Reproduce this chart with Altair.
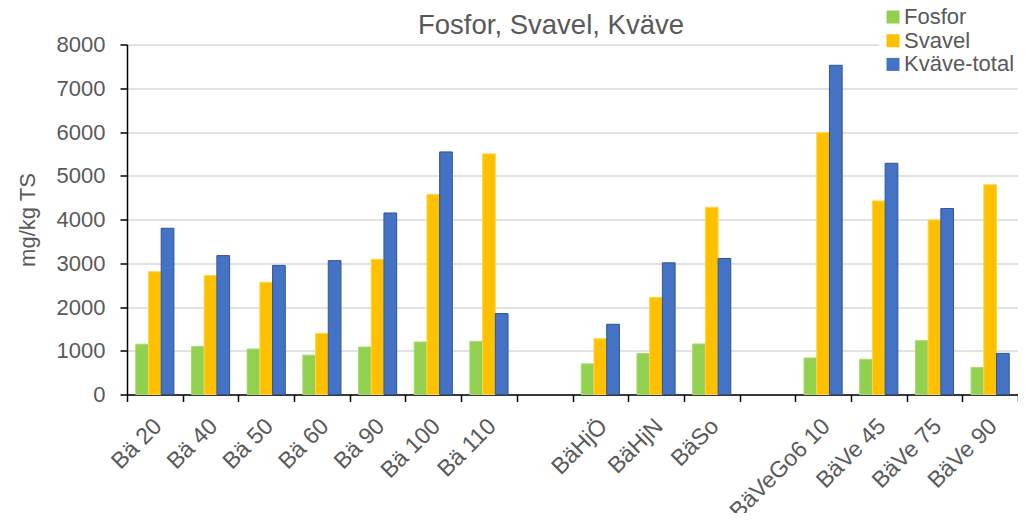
import altair as alt
import pandas as pd

categories = ["Bä 20", "Bä 40", "Bä 50", "Bä 60", "Bä 90", "Bä 100", "Bä 110",
              "BäHjÖ", "BäHjN", "BäSo",
              "BäVeGo6 10", "BäVe 45", "BäVe 75", "BäVe 90"]
fosfor = [1150, 1100, 1040, 900, 1085, 1200, 1215, 700, 935, 1155, 835, 805, 1230, 620]
svavel = [2805, 2720, 2565, 1395, 3090, 4575, 5500, 1275, 2220, 4280, 5985, 4425, 3990, 4795]
kvave = [3800, 3175, 2950, 3060, 4150, 5545, 1850, 1605, 3010, 3110, 7525, 5285, 4250, 940]

series = ["Fosfor", "Svavel", "Kväve-total"]
fill_colors = ["#92D050", "#FFC000", "#4472C4"]
stroke_colors = ["#A6DA72", "#FFD54A", "#2F5597"]
title_text = ["Fosfor, Svavel, Kväve"]

# empty slots between the sample groups
axis_domain = categories[:7] + [" "] + categories[7:10] + ["  "] + categories[10:]

rows = []
for name, vals in zip(series, [fosfor, svavel, kvave]):
    for c, v in zip(categories, vals):
        rows.append({"Prov": c, "Serie": name, "Värde": v})
df = pd.DataFrame(rows)

FONT = "Liberation Sans"
GREY = "#595959"

bars = alt.Chart(df).mark_bar(strokeWidth=1).encode(
    x=alt.X("Prov:N",
            scale=alt.Scale(domain=axis_domain, paddingInner=0, paddingOuter=0),
            axis=alt.Axis(title=None, labelAngle=-45, tickBand="extent", grid=False,
                          labelFontSize=23, labelFont=FONT, labelColor=GREY,
                          labelPadding=13, labelOffset=-5, tickSize=7, tickColor="black",
                          tickWidth=1.5, domainColor="black", domainWidth=1.5,
                          labelOverlap=False)),
    xOffset=alt.XOffset("Serie:N",
                        scale=alt.Scale(domain=series, paddingInner=0, paddingOuter=0.69)),
    y=alt.Y("Värde:Q",
            scale=alt.Scale(domain=[0, 8000], nice=False),
            axis=alt.Axis(title="mg/kg TS", values=list(range(0, 8001, 1000)), format="d",
                          labelFontSize=22, labelFont=FONT, labelColor=GREY,
                          labelPadding=15, tickSize=7, tickColor="black", tickWidth=1.5,
                          domainColor="black", domainWidth=1.5,
                          gridColor="#D9D9D9", gridWidth=1.5,
                          titleFontSize=22, titleFont=FONT, titleColor=GREY,
                          titleFontWeight="normal", titlePadding=17)),
    color=alt.Color("Serie:N",
                    scale=alt.Scale(domain=series, range=fill_colors),
                    legend=alt.Legend(title=None, orient="none", legendX=752, legendY=-41.5,
                                      symbolType="square", symbolSize=169,
                                      symbolStrokeWidth=0, labelFontSize=22,
                                      labelFont=FONT, labelColor=GREY, labelOffset=0,
                                      rowPadding=1.7, padding=3, fillColor="white")),
    stroke=alt.Stroke("Serie:N",
                      scale=alt.Scale(domain=series, range=stroke_colors),
                      legend=None),
)

title = alt.Chart(pd.DataFrame({"t": title_text})).mark_text(
    font=FONT, fontSize=27.5, color=GREY, align="center", baseline="alphabetic"
).encode(text="t:N", x=alt.value(424), y=alt.value(-11))

chart = alt.layer(bars, title).properties(
    width=891,
    height=350,
    autosize="none",
    padding={"left": 119, "top": 36.5, "right": 0, "bottom": 118.5},
).configure_view(stroke=None)

chart.save("out.html", embed_options={"renderer": "svg", "actions": False})
